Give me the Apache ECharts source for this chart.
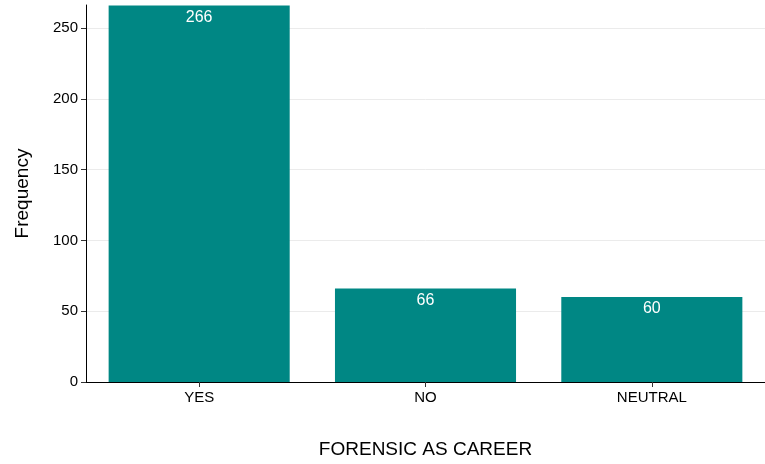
<!DOCTYPE html>
<html>
<head>
<meta charset="utf-8">
<script src="https://cdn.jsdelivr.net/npm/echarts@6/dist/echarts.min.js"></script>
<style>html,body{margin:0;padding:0;background:#fff}#chart{width:765px;height:464px}</style>
</head>
<body>
<div id="chart"></div>
<script>
// categories and counts
const categories = ['YES', 'NO', 'NEUTRAL'];
const counts = [266, 66, 60];

const chart = echarts.init(document.getElementById('chart'));
chart.setOption({
    animation: false,
    textStyle: {fontFamily: 'Arial, Liberation Sans, sans-serif'},
    grid: {left: 86, top: 5, width: 687, bottom: 79},
    xAxis: {
        type: 'category',
        data: categories,
        name: 'FORENSIC AS CAREER',
        nameLocation: 'middle',
        nameGap: 58,
        nameTextStyle: {fontSize: 19, color: '#000'},
        axisLine: {lineStyle: {color: '#000'}},
        axisTick: {show: true, alignWithLabel: true, lineStyle: {color: '#333'}},
        axisLabel: {fontSize: 15, color: '#000', margin: 8}
    },
    yAxis: {
        type: 'value',
        min: 0,
        max: 266.3,
        interval: 50,
        name: 'Frequency',
        nameLocation: 'middle',
        nameGap: 54,
        nameTextStyle: {fontSize: 19, color: '#000'},
        axisLine: {show: true, lineStyle: {color: '#000'}},
        axisTick: {show: true, lineStyle: {color: '#333'}},
        axisLabel: {fontSize: 15, color: '#000', showMaxLabel: false},
        splitLine: {show: true, showMaxLine: false, lineStyle: {color: '#ebebeb'}}
    },
    series: [{
        type: 'bar',
        data: counts,
        barCategoryGap: '20%',
        itemStyle: {color: '#008784'},
        label: {show: true, position: 'insideTop', color: '#fff', fontSize: 16, distance: 4}
    }]
});
</script>
</body>
</html>
